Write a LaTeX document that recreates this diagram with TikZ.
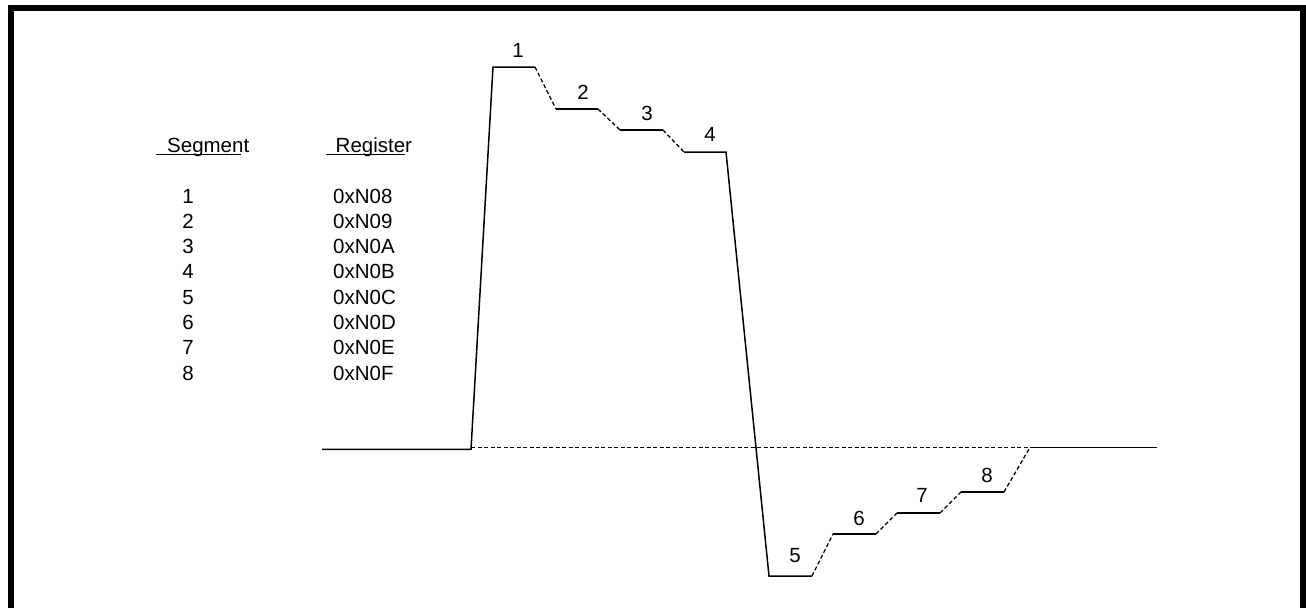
\documentclass[tikz,border=0pt]{standalone}
\usepackage{fontspec}
\setmainfont{Liberation Sans}
\begin{document}
\begin{tikzpicture}[x=1pt,y=-1pt,
  wave/.style={line width=1.5pt,line join=miter},
  dsh/.style={line width=1.3pt,dash pattern=on 4pt off 2.5pt},
  lbl/.style={anchor=base,inner sep=0pt,font=\fontsize{20.5}{22}\selectfont},
  lbll/.style={anchor=base west,inner sep=0pt,font=\fontsize{20.5}{22}\selectfont}]
\useasboundingbox (0,0) rectangle (1306,608);
% frame (open at bottom)
\draw[line width=6pt] (11,608) -- (11,7.5) -- (1303,7.5) -- (1303,608);
% coordinates of waveform
\coordinate (b0) at (322,449.3);
\coordinate (b1) at (471,449.3);
\coordinate (p1a) at (493,67);
\coordinate (p1b) at (535,67);
\coordinate (p2a) at (556,109);
\coordinate (p2b) at (598,109);
\coordinate (p3a) at (620,130);
\coordinate (p3b) at (663,130);
\coordinate (p4a) at (684,152);
\coordinate (p4b) at (726,152);
\coordinate (p5a) at (769,576);
\coordinate (p5b) at (812,576);
\coordinate (p6a) at (833,534);
\coordinate (p6b) at (876,534);
\coordinate (p7a) at (897,513);
\coordinate (p7b) at (940,513);
\coordinate (p8a) at (961,492);
\coordinate (p8b) at (1004,492);
\coordinate (e0) at (1030,447.3);
\coordinate (e1) at (1157,447.3);
\coordinate (z0) at (471,447.3);
% zero reference (dashed)
\draw[dsh] (z0) -- (e0);
% solid parts
\draw[wave] (b0) -- (b1) -- (p1a) -- (p1b);
\draw[wave] (p2a) -- (p2b);
\draw[wave] (p3a) -- (p3b);
\draw[wave] (p4a) -- (p4b) -- (p5a) -- (p5b);
\draw[wave] (p6a) -- (p6b);
\draw[wave] (p7a) -- (p7b);
\draw[wave] (p8a) -- (p8b);
\draw[wave] (e0) -- (e1);
% dashed transitions
\draw[dsh] (p1b) -- (p2a);
\draw[dsh] (p2b) -- (p3a);
\draw[dsh] (p3b) -- (p4a);
\draw[dsh] (p5b) -- (p6a);
\draw[dsh] (p6b) -- (p7a);
\draw[dsh] (p7b) -- (p8a);
\draw[dsh] (p8b) -- (e0);
% segment labels
\node[lbl] (s1) at (518,57) {1};
\node[lbl] (s2) at (583,99) {2};
\node[lbl] (s3) at (647,120) {3};
\node[lbl] (s4) at (710,141) {4};
\node[lbl] (s5) at (795,562) {5};
\node[lbl] (s6) at (859,525) {6};
\node[lbl] (s7) at (922,502) {7};
\node[lbl] (s8) at (987,482) {8};
% table headers
\node[lbll] (hseg) at (167,152) {Segment};
\node[lbll] (hreg) at (335.5,152) {Register};
\draw[line width=1pt] (156,154) -- (241,154);
\draw[line width=1pt] (326,154) -- (405,154);
% table rows
\foreach \i/\r [count=\k from 0] in {1/08,2/09,3/0A,4/0B,5/0C,6/0D,7/0E,8/0F}{
  \node[lbl] (n\i) at (188,203+25.3*\k) {\i};
  \node[lbll] (r\i) at (333,203+25.3*\k) {0xN\r};
}
\end{tikzpicture}
\end{document}
